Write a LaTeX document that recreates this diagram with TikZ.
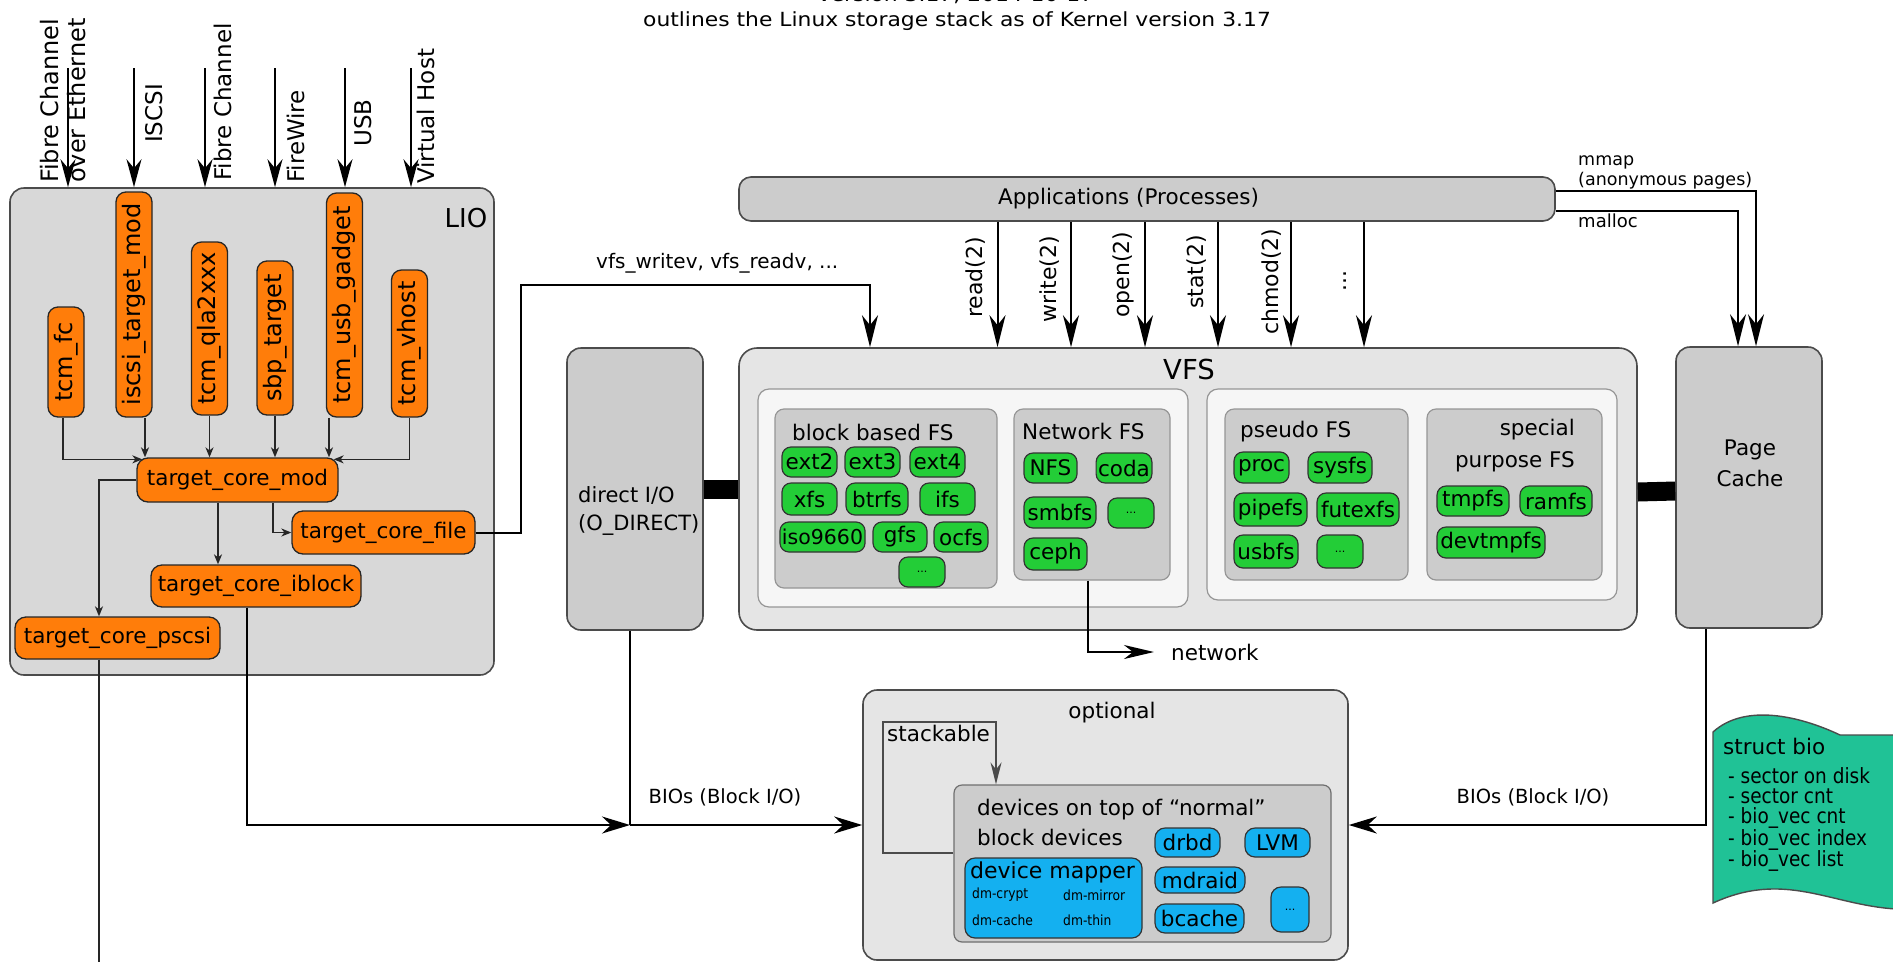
\documentclass[tikz,border=0pt]{standalone}
\usepackage{fontspec}
\usepackage{graphicx}
\setmainfont{DejaVu Sans}
\newfontfamily\condfont[FakeStretch=0.88]{DejaVu Sans}
\newfontfamily\widefont[FakeStretch=1.12]{DejaVu Sans}
\usetikzlibrary{arrows.meta,calc}

\definecolor{lioGray}{RGB}{216,216,216}
\definecolor{boxGray}{RGB}{204,204,204}
\definecolor{paleGray}{RGB}{229,229,229}
\definecolor{innerWhite}{RGB}{246,246,246}
\definecolor{edgeGray}{RGB}{75,75,75}
\definecolor{softEdge}{RGB}{150,150,150}
\definecolor{lioOrange}{RGB}{255,125,10}
\definecolor{fsGreen}{RGB}{35,205,55}
\definecolor{devBlue}{RGB}{20,176,240}
\definecolor{bioTeal}{RGB}{32,194,150}

% vertical text reading bottom to top
\newcommand{\up}[1]{\rotatebox{90}{#1}}

\tikzset{
  txt/.style={font=\fontsize{21.5}{25}\selectfont},
  lbl/.style={inner sep=0pt, txt},
  panel/.style={draw=edgeGray, line width=1.6pt, rounded corners=14pt, inner sep=0pt},
  softpanel/.style={draw=softEdge, line width=1.2pt, rounded corners=11pt, inner sep=0pt},
  tcmbox/.style={draw=black!85, fill=lioOrange, line width=1.3pt, rounded corners=10pt,
    inner sep=0pt, minimum width=36pt, font=\fontsize{24}{26}\selectfont},
  corebox/.style={draw=black!85, fill=lioOrange, line width=1.3pt, rounded corners=11pt,
    inner sep=0pt, txt},
  fsitem/.style={draw=black!80, fill=fsGreen, line width=1.2pt, rounded corners=9pt,
    inner xsep=2pt, inner ysep=0pt, txt},
  devitem/.style={draw=black!80, fill=devBlue, line width=1.2pt, rounded corners=10pt,
    inner xsep=2pt, inner ysep=0pt, txt},
  dotsmall/.style={font=\fontsize{11}{11}\selectfont},
  conn/.style={draw=black, line width=2pt},
  bigarrow/.style={conn, -{Stealth[length=32pt,width=16pt,inset=10pt]}},
  inarrow/.style={conn, -{Stealth[length=28pt,width=15pt,inset=9pt]}},
  bioarrow/.style={conn, -{Stealth[length=28pt,width=17pt,inset=9pt]}},
  smallarrow/.style={draw=black!85, line width=1.4pt, -{Stealth[length=10pt,width=8pt,inset=3pt]}},
  thinline/.style={draw=black!85, line width=1.4pt},
}

\begin{document}
\begin{tikzpicture}[x=1pt,y=-1pt]
\useasboundingbox (0,0) rectangle (1893,962);
\fill[white] (0,0) rectangle (1893,962);

% ---------- heading ----------
\node[lbl, anchor=base, font=\widefont\fontsize{19.5}{24}\selectfont] (ver) at (956,1.5) {version 3.17, 2014-10-17};
\node[lbl, anchor=base, font=\widefont\fontsize{19.5}{24}\selectfont] (title) at (957,26) {outlines the Linux storage stack as of Kernel version 3.17};

% ---------- LIO ----------
\node[panel, fill=lioGray, minimum width=484pt, minimum height=487pt] (lio) at (252,431.5) {};
\node[lbl, font=\fontsize{26}{28}\selectfont] (lioname) at (466,218) {LIO};

\foreach \x [count=\i] in {68,134,205,275,345,411} {
  \coordinate (in\i) at (\x,68);
  \draw[inarrow] (in\i) -- (in\i |- lio.north);
}
\node[lbl, anchor=south, font=\fontsize{24}{27}\selectfont] (fcoeL) at (66.5,183)
  {\up{\begin{tabular}{@{}l@{}}Fibre Channel\\over Ethernet\end{tabular}}};
\node[lbl, anchor=south, font=\fontsize{23}{26}\selectfont] (iscsiL) at (154,143) {\up{ISCSI}};
\node[lbl, anchor=south, font=\fontsize{23}{26}\selectfont] (fcL) at (223,181) {\up{Fibre Channel}};
\node[lbl, anchor=south, font=\fontsize{23}{26}\selectfont] (fwL) at (296,183) {\up{FireWire}};
\node[lbl, anchor=south, font=\fontsize{23}{26}\selectfont] (usbL) at (363,147) {\up{USB}};
\node[lbl, anchor=south, font=\fontsize{23}{26}\selectfont] (vhL) at (426,184) {\up{Virtual Host}};

\node[tcmbox, minimum height=110pt] (fc) at (66,362) {\up{tcm\_fc}};
\node[tcmbox, minimum height=225pt] (iscsi) at (134,304.5) {\up{iscsi\_target\_mod}};
\node[tcmbox, minimum height=173pt] (qla) at (209.5,328.5) {\up{tcm\_qla2xxx}};
\node[tcmbox, minimum height=154pt] (sbp) at (275,338) {\up{sbp\_target}};
\node[tcmbox, minimum height=224pt] (usb) at (344.5,305) {\up{tcm\_usb\_gadget}};
\node[tcmbox, minimum height=147pt] (vhost) at (409.5,343.5) {\up{tcm\_vhost}};

\node[corebox, minimum width=201pt, minimum height=44pt] (mod) at (237.5,480) {target\_core\_mod};
\node[corebox, minimum width=183pt, minimum height=43pt] (file) at (383.5,532.5) {target\_core\_file};
\node[corebox, minimum width=210pt, minimum height=42pt] (iblock) at (256,586) {target\_core\_iblock};
\node[corebox, minimum width=205pt, minimum height=42pt] (pscsi) at (117.5,638) {target\_core\_pscsi};

% fabric modules into the core
\draw[smallarrow] ($(fc.south)+(-3,0)$) |- ($(mod.north west)+(6,2)$);
\coordinate (isOut) at ($(iscsi.south)+(11,0)$);
\draw[smallarrow] (isOut) -- (isOut |- mod.north);
\draw[smallarrow] (qla.south) -- (qla.south |- mod.north);
\draw[smallarrow] (sbp.south) -- (sbp.south |- mod.north);
\coordinate (usOut) at ($(usb.south)+(-15.5,0)$);
\draw[smallarrow] (usOut) -- (usOut |- mod.north);
\draw[smallarrow] (vhost.south) |- ($(mod.north east)+(-5,2)$);
% core to backstores
\coordinate (modF) at ($(mod.south)+(35.5,0)$);
\draw[smallarrow] (modF) |- (file.west);
\coordinate (modI) at ($(mod.south)+(-19.5,0)$);
\draw[smallarrow] (modI) -- (modI |- iblock.north);
\draw[smallarrow] (mod.west) -| ($(pscsi.north)+(-18.5,0)$);
\coordinate (psOut) at ($(pscsi.south)+(-18.5,0)$);
\coordinate (psEnd) at (99,962);
\draw[thinline] (psOut) -- (psEnd);

% ---------- applications ----------
\node[panel, fill=boxGray, rounded corners=12pt, minimum width=816pt, minimum height=44pt] (apps) at (1147,199) {};
\node[lbl] (appsname) at (1128.5,199) {Applications (Processes)};

% ---------- direct I/O, VFS, page cache ----------
\node[panel, fill=boxGray, minimum width=136pt, minimum height=282pt] (direct) at (635,489) {};
\node[lbl, anchor=west, align=left, font=\fontsize{21}{28}\selectfont] (directname) at (578,511) {direct I/O\\(O\_DIRECT)};

\node[panel, fill=paleGray, rounded corners=18pt, minimum width=898pt, minimum height=282pt] (vfs) at (1188,489) {};
\node[lbl, font=\fontsize{27.5}{30}\selectfont] (vfsname) at (1189,369) {VFS};

\node[panel, fill=boxGray, minimum width=146pt, minimum height=281pt] (pc) at (1749,487.5) {};
\node[lbl, align=center, font=\fontsize{21.5}{31}\selectfont] (pcname) at (1750,463) {Page\\Cache};

\draw[line width=19pt] (direct.east) -- (vfs.west);
\draw[line width=19pt] ($(vfs.east)+(0,3)$) -- ($(pc.west)+(0,3.5)$);

\node[softpanel, fill=innerWhite, minimum width=430pt, minimum height=218pt] (innerL) at (973,498) {};
\node[softpanel, fill=innerWhite, minimum width=410pt, minimum height=211pt] (innerR) at (1412,494.5) {};

\node[softpanel, fill=boxGray, rounded corners=9pt, minimum width=222pt, minimum height=179pt] (blockfs) at (886,498.5) {};
\node[softpanel, fill=boxGray, rounded corners=9pt, minimum width=156pt, minimum height=171pt] (netfs) at (1092,494.5) {};
\node[softpanel, fill=boxGray, rounded corners=9pt, minimum width=183pt, minimum height=171pt] (pseudofs) at (1316.5,494.5) {};
\node[softpanel, fill=boxGray, rounded corners=9pt, minimum width=175pt, minimum height=171pt] (specialfs) at (1514.5,494.5) {};

\node[lbl, anchor=west] (blockname) at (792,432) {block based FS};
\node[lbl, anchor=west] (netname) at (1022,431) {Network FS};
\node[lbl, anchor=west] (pseudoname) at (1240,432) {pseudo FS};
\node[lbl, anchor=east, align=right, font=\fontsize{21.5}{32}\selectfont] (specialname) at (1575,446) {special\\purpose FS};

% block based file systems
\node[fsitem, minimum width=55pt, minimum height=30pt] (ext2) at (809.5,462) {ext2};
\node[fsitem, minimum width=55pt, minimum height=30pt] (ext3) at (872.5,462) {ext3};
\node[fsitem, minimum width=55pt, minimum height=30pt] (ext4) at (937.5,462) {ext4};
\node[fsitem, minimum width=55pt, minimum height=32pt] (xfs) at (809.5,499) {xfs};
\node[fsitem, minimum width=62pt, minimum height=32pt] (btrfs) at (877,499) {btrfs};
\node[fsitem, minimum width=55pt, minimum height=32pt] (ifs) at (947.5,499) {ifs};
\node[fsitem, minimum width=81pt, minimum height=30pt, font=\fontsize{20.5}{24}\selectfont] (iso) at (822.5,537) {iso9660};
\node[fsitem, minimum width=54pt, minimum height=30pt] (gfs) at (900,537) {gfs};
\node[fsitem, minimum width=54pt, minimum height=30pt] (ocfs) at (961,537) {ocfs};
\node[fsitem, dotsmall, minimum width=46pt, minimum height=30pt] (bmore) at (922,572) {...};
% network file systems
\node[fsitem, minimum width=53pt, minimum height=30pt] (nfs) at (1050.5,468) {NFS};
\node[fsitem, minimum width=54pt, minimum height=30pt] (coda) at (1124,468) {coda};
\node[fsitem, minimum width=72pt, minimum height=31pt] (smbfs) at (1060,512.5) {smbfs};
\node[fsitem, dotsmall, minimum width=46pt, minimum height=30pt] (nmore) at (1131,513) {...};
\node[fsitem, minimum width=63pt, minimum height=32pt] (ceph) at (1055.5,554) {ceph};
% pseudo file systems
\node[fsitem, minimum width=55pt, minimum height=31pt] (proc) at (1261.5,467.5) {proc};
\node[fsitem, minimum width=64pt, minimum height=31pt] (sysfs) at (1340,467.5) {sysfs};
\node[fsitem, minimum width=73pt, minimum height=33pt] (pipefs) at (1270.5,509.5) {pipefs};
\node[fsitem, minimum width=82pt, minimum height=33pt] (futexfs) at (1358,509.5) {futexfs};
\node[fsitem, minimum width=64pt, minimum height=33pt] (usbfs) at (1266,551.5) {usbfs};
\node[fsitem, dotsmall, minimum width=46pt, minimum height=33pt] (pmore) at (1340,551.5) {...};
% special purpose file systems
\node[fsitem, minimum width=72pt, minimum height=30pt] (tmpfs) at (1473,501) {tmpfs};
\node[fsitem, minimum width=72pt, minimum height=30pt] (ramfs) at (1556,501) {ramfs};
\node[fsitem, minimum width=108pt, minimum height=31pt] (devtmpfs) at (1491,542.5) {devtmpfs};

% ---------- system calls ----------
\foreach \dx [count=\i] in {-149.5,-76,-2,71,144,217} {
  \coordinate (sc\i) at ($(apps.south)+(\dx,0)$);
  \draw[bigarrow] (sc\i) -- (sc\i |- vfs.north);
}
\node[lbl, font=\fontsize{22}{24}\selectfont] (readL) at (976,277.5) {\up{read(2)}};
\node[lbl, font=\fontsize{22}{24}\selectfont] (writeL) at (1050,279.5) {\up{write(2)}};
\node[lbl, font=\fontsize{22}{24}\selectfont] (openL) at (1123,274.5) {\up{open(2)}};
\node[lbl, font=\fontsize{22}{24}\selectfont] (statL) at (1197,272) {\up{stat(2)}};
\node[lbl, font=\fontsize{22}{24}\selectfont] (chmodL) at (1272,281.5) {\up{chmod(2)}};
\node[lbl, font=\fontsize{22}{24}\selectfont] (moreL) at (1345,281) {\up{...}};

% ---------- anonymous memory ----------
\coordinate (mmStart) at ($(apps.east)+(0,-8)$);
\coordinate (mmEnd) at ($(pc.north)+(7,0)$);
\draw[bigarrow] (mmStart) -| (mmEnd);
\coordinate (maStart) at ($(apps.east)+(0,12)$);
\coordinate (maEnd) at ($(pc.north)+(-11,0)$);
\draw[bigarrow] (maStart) -| (maEnd);
\node[lbl, anchor=south west, align=left, font=\fontsize{17.5}{20}\selectfont] (mmapL) at (1578,189) {mmap\\(anonymous pages)};
\node[lbl, anchor=north west, font=\fontsize{18}{20}\selectfont] (mallocL) at (1578,214) {malloc};

% ---------- LIO file backstore into the VFS ----------
\coordinate (wvA) at (521,285);
\coordinate (wvB) at (870,285);
\draw[bigarrow] (file.east) -| (wvA) -- (wvB) -- (wvB |- vfs.north);
\node[lbl, anchor=west, font=\fontsize{20}{24}\selectfont] (wvL) at (596,263) {vfs\_writev, vfs\_readv, ...};

% ---------- network ----------
\node[lbl, anchor=west] (netL) at (1171,652) {network};
\coordinate (nfOut) at ($(netfs.south)+(-4,0)$);
\draw[conn, -{Stealth[length=30pt,width=14pt,inset=9pt]}] (nfOut) |- ($(netL.west)+(-17,0)$);

% ---------- optional stacked devices ----------
\node[panel, fill=paleGray, minimum width=485pt, minimum height=270pt] (opt) at (1105.5,825) {};
\node[lbl] (optname) at (1112,713) {optional};
\node[softpanel, draw=edgeGray!80, fill=boxGray, rounded corners=8pt, minimum width=377pt, minimum height=157pt] (devs) at (1142.5,863.5) {};

\coordinate (stkBL) at (883,853);
\coordinate (stkTL) at (883,722);
\coordinate (stkTR) at (996,722);
\draw[draw=edgeGray, line width=1.5pt, -{Stealth[length=22pt,width=11pt,inset=7pt]}]
  (devs.west |- stkBL) -- (stkBL) -- (stkTL) -- (stkTR) -- (stkTR |- devs.north);
\node[lbl, anchor=west] (stkname) at (887,733) {stackable};

\node[lbl, anchor=west, align=left, font=\fontsize{21.5}{30}\selectfont] (devname) at (977,822) {devices on top of “normal”\\block devices};

\node[devitem, minimum width=65pt, minimum height=29pt] (drbd) at (1187.5,842.5) {drbd};
\node[devitem, minimum width=65pt, minimum height=29pt] (lvm) at (1277.5,842.5) {LVM};
\node[devitem, minimum width=90pt, minimum height=26pt] (mdraid) at (1200,880) {mdraid};
\node[devitem, minimum width=89pt, minimum height=29pt] (bcache) at (1199.5,918.5) {bcache};
\node[devitem, dotsmall, minimum width=38pt, minimum height=45pt] (dmore) at (1290,909.5) {...};
\node[devitem, minimum width=177pt, minimum height=80pt] (dm) at (1053.5,898) {};
\node[lbl, anchor=west, font=\fontsize{22}{24}\selectfont] (dmname) at (970,872) {device mapper};
\node[lbl, anchor=west, font=\condfont\fontsize{14}{16}\selectfont] (dmcrypt) at (972,895) {dm-crypt};
\node[lbl, anchor=west, font=\condfont\fontsize{14}{16}\selectfont] (dmmirror) at (1063,895) {dm-mirror};
\node[lbl, anchor=west, font=\condfont\fontsize{14}{16}\selectfont] (dmcache) at (972,920) {dm-cache};
\node[lbl, anchor=west, font=\condfont\fontsize{14}{16}\selectfont] (dmthin) at (1063,920) {dm-thin};

% ---------- block I/O paths ----------
\coordinate (ibOut) at ($(iblock.south)+(-9,0)$);
\coordinate (junc) at ($(direct.south |- opt.west)+(-5,0)$);
\draw[bioarrow] (ibOut) |- (junc);
\draw[conn] ($(direct.south)+(-5,0)$) -- (junc);
\draw[bioarrow] (junc) -- (opt.west);
\node[lbl, font=\fontsize{19.5}{22}\selectfont] (bioL) at (725,797) {BIOs (Block I/O)};

\coordinate (pcOut) at ($(pc.south)+(-43,0)$);
\draw[bioarrow] (pcOut) |- (opt.east);
\node[lbl, font=\fontsize{19.5}{22}\selectfont] (bioR) at (1533,797) {BIOs (Block I/O)};

% ---------- struct bio note ----------
\draw[draw=edgeGray, line width=1.4pt, fill=bioTeal]
  (1713,732) .. controls (1745,703) and (1800,716) .. (1840,735) -- (1896,735)
  -- (1896,909) .. controls (1830,905) and (1785,870) .. (1713,903) -- cycle;
\node[lbl, anchor=west] (bioname) at (1723,746) {struct bio};
\node[lbl, anchor=north west, align=left, font=\condfont\fontsize{21}{20}\selectfont] (biolist) at (1728,767)
  {- sector on disk\\- sector cnt\\- bio\_vec cnt\\- bio\_vec index\\- bio\_vec list};
\end{tikzpicture}
\end{document}
